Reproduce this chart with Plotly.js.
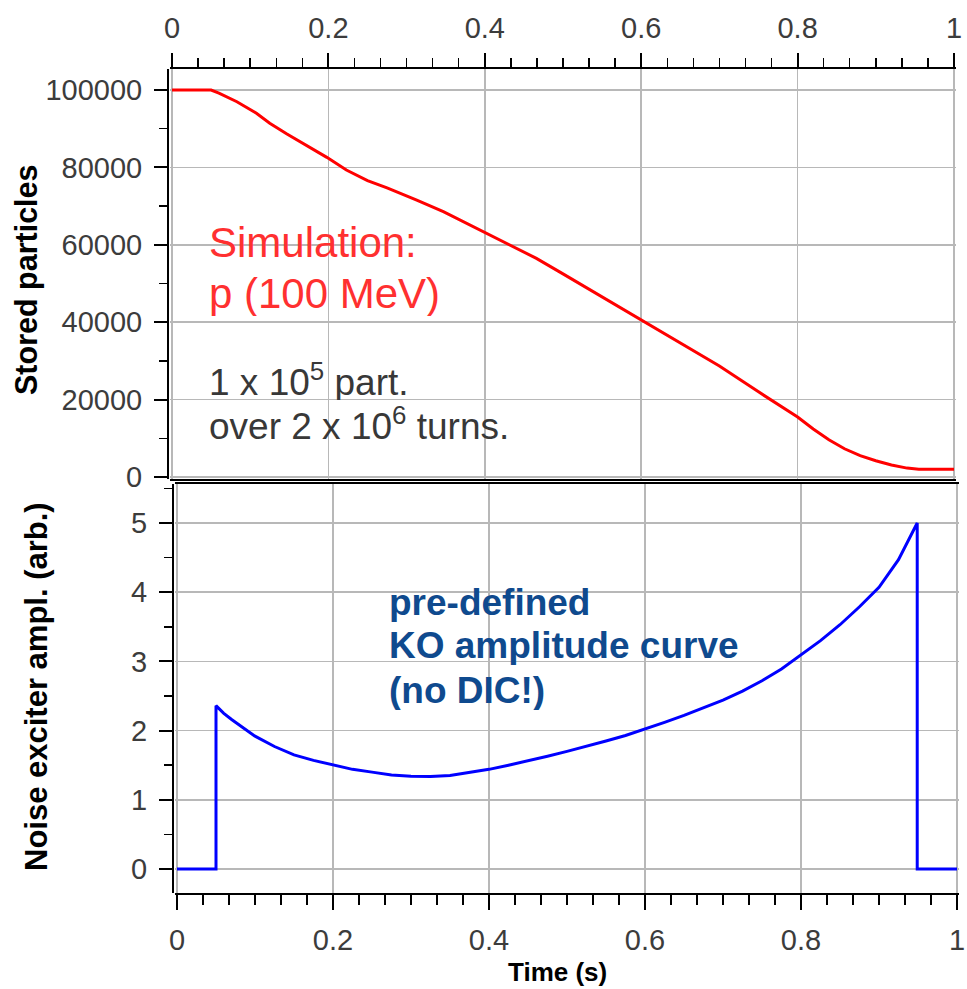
<!DOCTYPE html>
<html><head><meta charset="utf-8">
<script src="https://cdn.plot.ly/plotly-3.0.1.min.js"></script>
<style>html,body{margin:0;padding:0;background:#fff}#chart{width:967px;height:989px}</style>
</head><body><div id="chart"></div>
<script>
// ---- data ----
const timeTop = [0, 0.05, 0.06, 0.083, 0.108, 0.125, 0.147, 0.168, 0.198, 0.223, 0.25, 0.275, 0.313, 0.347, 0.381, 0.424, 0.466, 0.5, 0.55, 0.6, 0.65, 0.7, 0.75, 0.8, 0.82, 0.84, 0.86, 0.88, 0.9, 0.92, 0.94, 0.955, 1.0];
const storedParticles = [100000, 100000, 99200, 96970, 93980, 91400, 88630, 86220, 82600, 79330, 76600, 74700, 71570, 68550, 65110, 60800, 56500, 52500, 46500, 40500, 34600, 28700, 22000, 15500, 12400, 9600, 7300, 5500, 4200, 3100, 2300, 2000, 2000];
const timeBottom = [0, 0.05, 0.05, 0.06, 0.07, 0.08, 0.09, 0.1, 0.125, 0.15, 0.175, 0.2, 0.225, 0.25, 0.275, 0.3, 0.325, 0.35, 0.375, 0.4, 0.425, 0.45, 0.475, 0.5, 0.525, 0.55, 0.575, 0.6, 0.625, 0.65, 0.675, 0.7, 0.725, 0.75, 0.775, 0.8, 0.825, 0.85, 0.875, 0.9, 0.925, 0.949, 0.949, 1.0];
const noiseAmplitude = [0, 0, 2.36, 2.25, 2.16, 2.08, 2.0, 1.92, 1.77, 1.65, 1.57, 1.50, 1.44, 1.40, 1.36, 1.34, 1.335, 1.35, 1.39, 1.44, 1.50, 1.56, 1.63, 1.70, 1.77, 1.85, 1.93, 2.02, 2.12, 2.22, 2.33, 2.44, 2.57, 2.72, 2.89, 3.09, 3.30, 3.53, 3.79, 4.07, 4.47, 5.0, 0, 0];
const timeTicks = [0, 0.2, 0.4, 0.6, 0.8, 1];
const timeTickLabels = ['0', '0.2', '0.4', '0.6', '0.8', '1'];
const storedTicks = [0, 20000, 40000, 60000, 80000, 100000];
const storedTickLabels = ['0', '20000', '40000', '60000', '80000', '100000'];
const amplTicks = [0, 1, 2, 3, 4, 5];
const amplTickLabels = ['0', '1', '2', '3', '4', '5'];
const rightDecorTicks = [1, 2, 3, 4, 5];

// ---- layout helpers ----
const W = 967, H = 989;
const fx = p => p / W;
const fy = p => 1 - p / H;
const FONT = 'Liberation Sans, Arial, sans-serif';
const tickFont = {family: FONT, size: 29, color: '#3c3c3c'};
const grid = {showgrid: true, gridcolor: '#b8b8b8', gridwidth: 1.5, zeroline: false};

const traces = [
  {x: timeTop, y: storedParticles, xaxis: 'x', yaxis: 'y', type: 'scatter', mode: 'lines',
   line: {color: '#ff0000', width: 3}, hoverinfo: 'x+y'},
  {x: timeBottom, y: noiseAmplitude, xaxis: 'x2', yaxis: 'y3', type: 'scatter', mode: 'lines',
   line: {color: '#0000ff', width: 3}, hoverinfo: 'x+y'}
];

const layout = {
  width: W, height: H,
  margin: {l: 0, r: 0, t: 0, b: 0},
  paper_bgcolor: '#ffffff', plot_bgcolor: '#ffffff',
  showlegend: false,
  xaxis: Object.assign({}, grid, {
    domain: [fx(169.65), fx(956.35)], range: [-0.003, 1.003], anchor: 'y', side: 'top',
    tickmode: 'array', tickvals: timeTicks, ticktext: timeTickLabels,
    ticks: 'outside', ticklen: 14, tickwidth: 2, tickcolor: '#000',
    showline: true, linecolor: '#000', linewidth: 2, mirror: true,
    tickfont: tickFont, ticklabelstandoff: 3,
    minor: {dtick: 1/30, tick0: 0, ticks: 'outside', ticklen: 9, tickwidth: 1.5, tickcolor: '#000', showgrid: false}
  }),
  yaxis: Object.assign({}, grid, {
    domain: [fy(479), fy(69)], range: [-517, 105430], anchor: 'free', position: fx(168),
    tickmode: 'array', tickvals: storedTicks, ticktext: storedTickLabels,
    ticks: 'outside', ticklen: 13, tickwidth: 2, tickcolor: '#000',
    showline: true, linecolor: '#000', linewidth: 2,
    tickfont: tickFont, ticklabelstandoff: 6,
    minor: {dtick: 10000, tick0: 0, ticks: 'outside', ticklen: 8, tickwidth: 1.5, tickcolor: '#000', showgrid: false}
  }),
  yaxis2: {
    overlaying: 'y', side: 'right', anchor: 'free', position: fx(960),
    range: [-0.056, 6.041], tickmode: 'array', tickvals: rightDecorTicks,
    showticklabels: false, ticks: 'outside', ticklen: 8, tickwidth: 2, tickcolor: '#000',
    showline: true, linecolor: '#000', linewidth: 2, showgrid: false, zeroline: false
  },
  xaxis2: Object.assign({}, grid, {
    domain: [fx(174.66), fx(959.34)], range: [-0.003, 1.003], anchor: 'y3', side: 'bottom',
    tickmode: 'array', tickvals: timeTicks, ticktext: timeTickLabels,
    ticks: 'outside', ticklen: 15, tickwidth: 2, tickcolor: '#000',
    showline: true, linecolor: '#000', linewidth: 2, mirror: true,
    tickfont: tickFont, ticklabelstandoff: 5,
    minor: {dtick: 1/30, tick0: 0, ticks: 'outside', ticklen: 10, tickwidth: 1.5, tickcolor: '#000', showgrid: false}
  }),
  yaxis3: Object.assign({}, grid, {
    domain: [fy(893), fy(484)], range: [-0.347, 5.564], anchor: 'free', position: fx(173),
    tickmode: 'array', tickvals: amplTicks, ticktext: amplTickLabels,
    ticks: 'outside', ticklen: 13, tickwidth: 2, tickcolor: '#000',
    showline: true, linecolor: '#000', linewidth: 2,
    tickfont: tickFont, ticklabelstandoff: 6,
    minor: {dtick: 0.5, tick0: 0, ticks: 'outside', ticklen: 8, tickwidth: 1.5, tickcolor: '#000', showgrid: false}
  }),
  yaxis4: {
    overlaying: 'y3', side: 'right', anchor: 'free', position: fx(960),
    range: [-0.347, 5.564], tickmode: 'array', tickvals: amplTicks,
    showticklabels: false, ticks: 'outside', ticklen: 8, tickwidth: 2, tickcolor: '#000',
    showline: true, linecolor: '#000', linewidth: 2, showgrid: false, zeroline: false
  },
  annotations: [
    {text: 'Stored particles', textangle: -90, xref: 'paper', yref: 'paper', x: fx(26), y: fy(280),
     xanchor: 'center', yanchor: 'middle', showarrow: false, font: {family: FONT, size: 30.5, color: '#000', weight: 'bold'}},
    {text: 'Noise exciter ampl. (arb.)', textangle: -90, xref: 'paper', yref: 'paper', x: fx(36), y: fy(687),
     xanchor: 'center', yanchor: 'middle', showarrow: false, font: {family: FONT, size: 31, color: '#000', weight: 'bold'}},
    {text: 'Time (s)', xref: 'paper', yref: 'paper', x: fx(557), y: fy(972),
     xanchor: 'center', yanchor: 'middle', showarrow: false, font: {family: FONT, size: 26, color: '#000', weight: 'bold'}},
    {text: 'Simulation:', xref: 'paper', yref: 'paper', x: fx(207), y: fy(242), height: 46,
     xanchor: 'left', yanchor: 'middle', showarrow: false, font: {family: FONT, size: 42, color: '#ff3030'}},
    {text: 'p (100 MeV)', xref: 'paper', yref: 'paper', x: fx(207), y: fy(293), height: 46,
     xanchor: 'left', yanchor: 'middle', showarrow: false, font: {family: FONT, size: 42, color: '#ff3030'}},
    {text: '1 x 10<sup>5</sup> part.', xref: 'paper', yref: 'paper', x: fx(207), y: fy(380), height: 40,
     xanchor: 'left', yanchor: 'middle', showarrow: false, font: {family: FONT, size: 37, color: '#383838'}},
    {text: 'over 2 x 10<sup>6</sup> turns.', xref: 'paper', yref: 'paper', x: fx(207), y: fy(424), height: 40,
     xanchor: 'left', yanchor: 'middle', showarrow: false, font: {family: FONT, size: 37, color: '#383838'}},
    {text: 'pre-defined', xref: 'paper', yref: 'paper', x: fx(387), y: fy(602), height: 40,
     xanchor: 'left', yanchor: 'middle', showarrow: false, font: {family: FONT, size: 37, color: '#0f4a8e', weight: 'bold'}},
    {text: 'KO amplitude curve', xref: 'paper', yref: 'paper', x: fx(387), y: fy(645), height: 40,
     xanchor: 'left', yanchor: 'middle', showarrow: false, font: {family: FONT, size: 37, color: '#0f4a8e', weight: 'bold'}},
    {text: '(no DIC!)', xref: 'paper', yref: 'paper', x: fx(387), y: fy(690), height: 40,
     xanchor: 'left', yanchor: 'middle', showarrow: false, font: {family: FONT, size: 37, color: '#0f4a8e', weight: 'bold'}}
  ]
};

Plotly.newPlot('chart', traces, layout, {displayModeBar: false, staticPlot: true});
</script>
</body></html>
